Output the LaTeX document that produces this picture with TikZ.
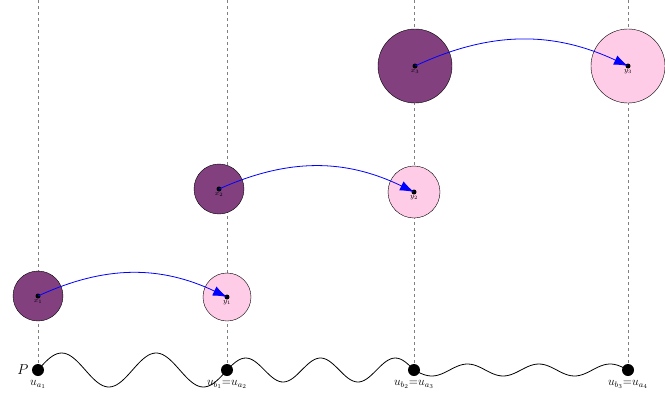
\documentclass[tikz,border=0pt]{standalone}
\usetikzlibrary{arrows.meta}
\definecolor{darkplum}{HTML}{82407F}
\definecolor{lightpink}{HTML}{FFCCE8}
\tikzset{
  guide/.style={dashed,gray,thick},
  srcball/.style={circle,draw=black,fill=darkplum,inner sep=0pt},
  dstball/.style={circle,draw=black,fill=lightpink,inner sep=0pt},
  jump/.style={blue,thick,-{Latex[length=14pt,width=10pt]}},
  pathdot/.style={circle,fill=black,inner sep=0pt,minimum size=12pt}
}
\begin{document}
\begin{tikzpicture}[x=1pt,y=-1pt]
    \useasboundingbox (0,0) rectangle (665,410);
    % guides
    \foreach \gx in {38,227,414,628}
        \draw[guide] (\gx,0) -- (\gx,370);
    % balls
    \node[srcball,minimum size=50pt] (x1b) at (38,296) {};
    \node[dstball,minimum size=48pt] (y1b) at (227,297) {};
    \node[srcball,minimum size=50pt] (x2b) at (219,189) {};
    \node[dstball,minimum size=52pt] (y2b) at (414,192) {};
    \node[srcball,minimum size=74pt] (x3b) at (415,66) {};
    \node[dstball,minimum size=74pt] (y3b) at (628,66) {};
    \foreach \b/\l in {x1/x_1,y1/y_1,x2/x_2,y2/y_2,x3/x_3,y3/y_3} {
        \fill (\b b.center) circle (2.5pt);
        \node[font=\scriptsize,below=0pt] at (\b b.center) {$\l$};
    }
    % jumps
    \draw[jump] (x1b.center) to[bend left=25] (y1b.center);
    \draw[jump] (x2b.center) to[bend left=25] (y2b.center);
    \draw[jump] (x3b.center) to[bend left=25] (y3b.center);
    % wavy path
    \draw[thick] plot[domain=38:227,samples=80,smooth] (\x,{370-17*sin((\x-38)/189*720)});
    \draw[thick] plot[domain=227:414,samples=80,smooth] (\x,{370-12*sin((\x-227)/187*900)});
    \draw[thick] plot[domain=414:628,samples=80,smooth] (\x,{370+6*sin((\x-414)/214*1080)});
    \node[pathdot] (p1) at (38,370) {};
    \node[pathdot] (p2) at (227,370) {};
    \node[pathdot] (p3) at (414,370) {};
    \node[pathdot] (p4) at (628,370) {};
    \node[font=\Large,left=6pt] at (p1.center) {$P$};
    \node[font=\large,below=1pt] at (p1.south) {$u_{a_1}$};
    \node[font=\large,below=1pt] at (p2.south) {$u_{b_1}{=}u_{a_2}$};
    \node[font=\large,below=1pt] at (p3.south) {$u_{b_2}{=}u_{a_3}$};
    \node[font=\large,below=1pt] at (p4.south) {$u_{b_3}{=}u_{a_4}$};
\end{tikzpicture}
\end{document}
